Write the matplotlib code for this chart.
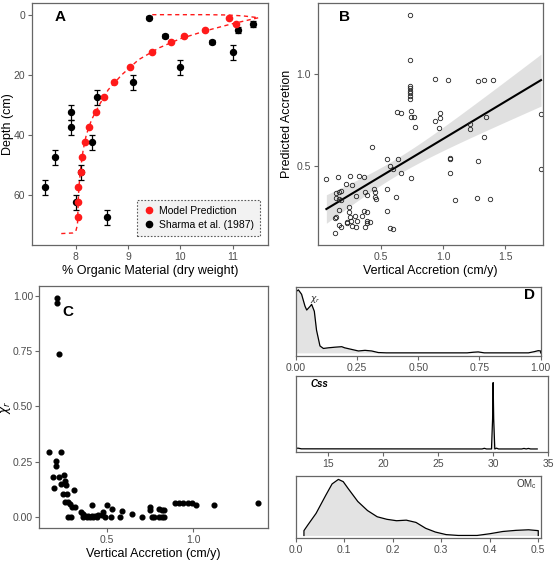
import matplotlib
matplotlib.use("Agg")
import matplotlib.pyplot as plt
from matplotlib.lines import Line2D
import numpy as np

plt.rcParams['font.family'] = ['Liberation Sans', 'DejaVu Sans']

# ================ PANEL A: organic matter vs depth ================
model_om = [10.93, 11.06, 10.48, 10.08, 9.83, 9.45, 9.03, 8.73, 8.53, 8.38,
            8.26, 8.17, 8.11, 8.09, 8.05, 8.04, 8.04]
model_depth = [1, 3, 5, 7, 9, 12.5, 17.5, 22.5, 27.5, 32.5,
               37.5, 42.5, 47.5, 52.5, 57.5, 62.5, 67.5]

# dashed model curve (goes up the profile then back along the surface)
curve_om = [7.72, 7.94, 8.00, 8.03, 8.04, 8.05, 8.07, 8.10, 8.14, 8.20, 8.30,
            8.45, 8.62, 8.88, 9.20, 9.60, 10.0, 10.5, 11.0, 11.3, 11.5,
            11.2, 10.9, 10.5, 9.4]
curve_depth = [72.9, 72.7, 72.0, 70.0, 65.0, 60.0, 55.0, 50.0, 45.0, 40.0, 35.0,
               30.0, 25.0, 20.0, 15.0, 11.0, 8.0, 5.3, 3.0, 1.8, 1.0,
               0.4, 0.1, 0.0, 0.0]

sharma_om = [9.40, 9.70, 10.60, 11.10, 11.40, 11.00, 10.00, 9.10, 8.40,
             7.90, 7.90, 8.30, 7.60, 8.10, 7.40, 8.00, 8.60]
sharma_depth = [1.0, 7.0, 9.0, 5.0, 3.0, 12.5, 17.5, 22.5, 27.5,
                32.5, 37.5, 42.5, 47.5, 52.5, 57.5, 62.5, 67.5]
sharma_err = [0.6, 0.6, 0.7, 1.0, 1.0, 2.5, 2.5, 2.5, 2.5,
              2.5, 2.5, 2.5, 2.5, 2.5, 2.5, 2.5, 2.5]

# ================ PANEL B: observed vs predicted accretion ================
b_obs = [0.734, 0.734, 0.734, 0.734, 0.734, 0.734, 0.734, 0.734,
         0.935, 1.04, 1.28, 1.33, 1.40,
         0.63, 0.66, 0.74, 0.745, 0.77, 0.775,
         0.975, 0.975, 0.935, 0.97,
         1.22, 1.22, 1.35, 1.33,
         1.79, 1.79, 0.425, 1.06, 1.06, 1.06, 1.28,
         1.10, 1.27, 1.38, 0.745, 0.66, 0.55, 0.57, 0.60, 0.64,
         0.55, 0.62, 0.55, 0.57, 0.60,
         0.44, 0.45, 0.45, 0.46, 0.37, 0.39, 0.385, 0.30,
         0.06, 0.15, 0.25, 0.32, 0.36, 0.22, 0.27,
         0.14, 0.16, 0.18, 0.135, 0.165, 0.18, 0.16, 0.14, 0.13,
         0.16, 0.18, 0.13, 0.24, 0.24, 0.25, 0.26, 0.23, 0.23,
         0.29, 0.31, 0.30, 0.27, 0.35, 0.385, 0.39, 0.37, 0.41, 0.36]
b_pred = [1.32, 1.075, 0.935, 0.92, 0.907, 0.894, 0.88, 0.865,
          0.973, 0.967, 0.962, 0.967, 0.967,
          0.79, 0.785, 0.795, 0.767, 0.767, 0.71,
          0.785, 0.76, 0.745, 0.707,
          0.727, 0.698, 0.763, 0.658,
          0.78, 0.48, 0.60, 0.54, 0.535, 0.46, 0.525,
          0.31, 0.325, 0.32, 0.43, 0.458, 0.535, 0.495, 0.48, 0.535,
          0.373, 0.327, 0.254, 0.158, 0.153,
          0.373, 0.358, 0.327, 0.316, 0.358, 0.34, 0.249, 0.334,
          0.427, 0.44, 0.445, 0.445, 0.44, 0.40, 0.395,
          0.35, 0.358, 0.363, 0.325, 0.32, 0.31, 0.258, 0.22, 0.213,
          0.176, 0.167, 0.131, 0.276, 0.249, 0.22, 0.20, 0.194, 0.185,
          0.227, 0.20, 0.167, 0.172, 0.225, 0.20, 0.185, 0.167, 0.194, 0.254]

# ================ PANEL C: chi_r vs vertical accretion ================
c_acc = [0.206, 0.206, 0.221,
         0.161, 0.229, 0.203, 0.203, 0.186, 0.219, 0.248, 0.190, 0.231, 0.254,
         0.258, 0.241, 0.266, 0.305, 0.254, 0.273, 0.283, 0.297, 0.312,
         0.270, 0.289, 0.347, 0.360, 0.370, 0.389, 0.409, 0.428, 0.444,
         0.360, 0.380, 0.399, 0.419, 0.438, 0.409, 0.467, 0.487, 0.477,
         0.497, 0.526, 0.522, 0.574, 0.584, 0.642, 0.700, 0.748, 0.748,
         0.758, 0.773, 0.801, 0.816, 0.831, 0.801, 0.816, 0.831,
         0.894, 0.917, 0.942, 0.967, 0.991, 1.016, 1.122, 1.374]
c_chi = [0.991, 0.967, 0.738,
         0.295, 0.295, 0.255, 0.230, 0.180, 0.179, 0.192, 0.133, 0.148, 0.162,
         0.144, 0.103, 0.103, 0.124, 0.068, 0.068, 0.058, 0.045, 0.045,
         0.0, 0.0, 0.023, 0.012, 0.003, 0.003, 0.003, 0.003, 0.008,
         0.0, 0.0, 0.0, 0.0, 0.0, 0.053, 0.008, 0.0, 0.023,
         0.053, 0.038, 0.0, 0.0, 0.026, 0.012, 0.0, 0.045, 0.033,
         0.0, 0.0, 0.038, 0.033, 0.030, 0.0, 0.0, 0.0,
         0.064, 0.064, 0.064, 0.064, 0.064, 0.053, 0.053, 0.064]

# ================ PANEL D: posterior densities (relative height) ================
chi_x = [0.0, 0.004, 0.011, 0.024, 0.038, 0.045, 0.059, 0.065, 0.076, 0.085,
         0.099, 0.113, 0.133, 0.16, 0.188, 0.20, 0.228, 0.256, 0.283, 0.31,
         0.337, 0.37, 0.70, 0.725, 0.745, 0.77, 0.95, 0.975, 0.99, 1.0]
chi_d = [0.98, 0.98, 1.0, 0.93, 0.74, 0.68, 0.74, 0.77, 0.66, 0.36,
         0.11, 0.07, 0.08, 0.09, 0.098, 0.08, 0.055, 0.03, 0.04, 0.03,
         0.005, 0.0, 0.0, 0.01, 0.015, 0.0, 0.0, 0.02, 0.035, 0.03]

css_x = [12.08, 12.3, 12.6, 29.0, 29.2, 29.4, 29.85, 29.95, 30.0, 30.05,
         30.15, 30.3, 30.5, 32.6, 32.8, 33.0, 33.2, 33.4, 34.0]
css_d = [0.01, 0.012, 0.002, 0.0, 0.01, 0.0, 0.0, 0.45, 1.0, 0.45,
         0.0, 0.012, 0.0, 0.0, 0.008, 0.0, 0.008, 0.0, 0.0]

om_x = [0.017, 0.025, 0.042, 0.062, 0.075, 0.088, 0.098, 0.108, 0.128, 0.148,
        0.168, 0.188, 0.208, 0.228, 0.248, 0.268, 0.288, 0.31, 0.335, 0.374,
        0.40, 0.427, 0.454, 0.48, 0.50]
om_d = [0.085, 0.185, 0.39, 0.71, 0.91, 0.99, 0.95, 0.83, 0.60, 0.44,
        0.33, 0.285, 0.26, 0.27, 0.23, 0.126, 0.06, 0.015, 0.0, 0.0,
        0.03, 0.07, 0.09, 0.10, 0.085]

# ====================== DRAW =========================
spine_col = '#666666'
tick_col = '#4d4d4d'
red = '#ff1a1a'


def style(ax, yticks=True):
    for s in ax.spines.values():
        s.set_color(spine_col)
        s.set_linewidth(0.9)
    ax.tick_params(colors=spine_col, labelcolor=tick_col, labelsize=7.5,
                   length=3, width=0.8, pad=2)
    if not yticks:
        ax.set_yticks([])


fig = plt.figure(figsize=(5.55, 5.61), dpi=100)

# ---- A ----
axA = fig.add_axes([0.0577, 0.5633, 0.4252, 0.4314])
axA.plot(curve_om, curve_depth, '--', color=red, lw=1.0, dashes=(3, 2.5))
axA.errorbar(sharma_om, sharma_depth, yerr=sharma_err, fmt='o', color='black',
             ms=4.3, capsize=2.2, elinewidth=0.9, capthick=0.9, zorder=3)
axA.plot(model_om, model_depth, 'o', color=red, ms=4.5, zorder=4)
axA.set_xlim(7.16, 11.68)
axA.set_ylim(76.7, -3.9)
axA.set_xticks([8, 9, 10, 11])
axA.set_yticks([0, 20, 40, 60])
axA.set_xlabel('% Organic Material (dry weight)', fontsize=9, labelpad=2)
axA.set_ylabel('Depth (cm)', fontsize=9)
axA.yaxis.set_label_coords(-0.076, 0.5)
axA.text(0.119, 0.943, 'A', transform=axA.transAxes, fontsize=11,
         fontweight='bold', va='center', ha='center')
handles = [Line2D([], [], ls='none', marker='o', color=red, ms=4.5),
           Line2D([], [], ls='none', marker='o', color='black', ms=4.5)]
leg = axA.legend(handles, ['Model Prediction', 'Sharma et al. (1987)'],
                 loc='lower right', bbox_to_anchor=(0.966, 0.037),
                 fontsize=7.5, frameon=True, fancybox=False, handletextpad=0.3,
                 borderpad=0.6, labelspacing=0.35, handlelength=1.2,
                 borderaxespad=0)
fr = leg.get_frame()
fr.set_facecolor('#efefef')
fr.set_edgecolor('#333333')
fr.set_linestyle((0, (1.5, 1.5)))
fr.set_linewidth(0.8)
style(axA)

# ---- B ----
axB = fig.add_axes([0.5724, 0.5633, 0.4060, 0.4314])
x = np.array(b_obs)
y = np.array(b_pred)
slope, icpt = np.polyfit(x, y, 1)
n = len(x)
res = y - (icpt + slope * x)
s = np.sqrt(np.sum(res ** 2) / (n - 2))
xs = np.linspace(x.min(), x.max(), 100)
se = s * np.sqrt(1.0 / n + (xs - x.mean()) ** 2 / np.sum((x - x.mean()) ** 2))
fit = icpt + slope * xs
axB.fill_between(xs, fit - 1.985 * se, fit + 1.985 * se, color='#d9d9d9',
                 lw=0, alpha=0.8)
axB.plot(xs, fit, color='black', lw=1.5)
axB.plot(b_obs, b_pred, 'o', mfc='none', mec='#222222', ms=3.2, mew=0.6)
axB.set_xlim(-0.01, 1.806)
axB.set_ylim(0.067, 1.386)
axB.set_xticks([0.5, 1.0, 1.5])
axB.set_yticks([0.5, 1.0])
axB.set_xlabel('Vertical Accretion (cm/y)', fontsize=9, labelpad=2)
axB.set_ylabel('Predicted Accretion', fontsize=9, labelpad=2)
axB.text(0.121, 0.943, 'B', transform=axB.transAxes, fontsize=11,
         fontweight='bold', va='center', ha='center')
style(axB)

# ---- C ----
axC = fig.add_axes([0.0708, 0.0588, 0.4121, 0.4314])
axC.plot(c_acc, c_chi, 'o', color='black', ms=3.4)
axC.set_xlim(0.105, 1.434)
axC.set_ylim(-0.05, 1.045)
axC.set_xticks([0.5, 1.0])
axC.set_yticks([0, 0.25, 0.5, 0.75, 1.0])
axC.set_yticklabels(['0.00', '0.25', '0.50', '0.75', '1.00'])
axC.set_xlabel('Vertical Accretion (cm/y)', fontsize=9, labelpad=2)
axC.set_ylabel(r'$\chi_r$', fontsize=8.5)
axC.yaxis.set_label_coords(-0.114, 0.5)
axC.text(0.124, 0.891, 'C', transform=axC.transAxes, fontsize=11,
         fontweight='bold', va='center', ha='center')
style(axC)
axC.tick_params(axis='y', pad=1.5)

# ---- D ----
fill_col = '#e3e3e3'
axD1 = fig.add_axes([0.5328, 0.3654, 0.4414, 0.1235])
axD1.fill_between(chi_x, 0, chi_d, color=fill_col, lw=0)
axD1.plot([chi_x[0]] + chi_x + [chi_x[-1]], [0] + chi_d + [0], color='black', lw=0.9)
axD1.set_xlim(0.0, 1.0)
axD1.set_ylim(-0.05, 1.05)
axD1.set_xticks([0, 0.25, 0.5, 0.75, 1.0])
axD1.set_xticklabels(['0.00', '0.25', '0.50', '0.75', '1.00'])
axD1.text(0.06, 0.8, r'$\chi_r$', transform=axD1.transAxes, fontsize=6.5,
          color='#333333')
axD1.text(0.956, 0.88, 'D', transform=axD1.transAxes, fontsize=11,
          fontweight='bold', va='center', ha='center')
style(axD1, yticks=False)

axD2 = fig.add_axes([0.5328, 0.1938, 0.4550, 0.1360])
axD2.fill_between(css_x, 0, css_d, color=fill_col, lw=0)
axD2.plot([css_x[0]] + css_x + [css_x[-1]], [0] + css_d + [0], color='black', lw=0.9)
axD2.set_xlim(12.08, 35.0)
axD2.set_ylim(-0.05, 1.1)
axD2.set_xticks([15, 20, 25, 30, 35])
axD2.text(0.06, 0.85, 'Css', transform=axD2.transAxes, fontsize=7,
          fontweight='bold', fontstyle='italic')
style(axD2, yticks=False)

axD3 = fig.add_axes([0.5328, 0.0405, 0.4414, 0.1110])
axD3.fill_between(om_x, 0, om_d, color=fill_col, lw=0)
axD3.plot([om_x[0]] + om_x + [om_x[-1]], [0] + om_d + [0], color='black', lw=0.9)
axD3.set_xlim(0.0167, 0.505)
axD3.set_ylim(-0.05, 1.05)
axD3.set_xticks([0.0, 0.1, 0.2, 0.3, 0.4, 0.5])
axD3.text(0.985, 0.82, r'OM$_\mathregular{c}$', transform=axD3.transAxes,
          fontsize=7, ha='right', color='#333333')
style(axD3, yticks=False)

fig.savefig('out.png', dpi=100)
